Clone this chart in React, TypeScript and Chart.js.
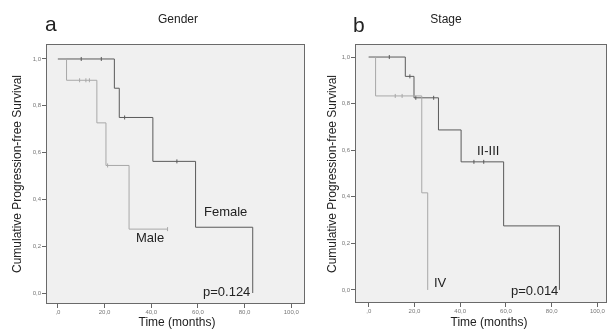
import React, { useEffect, useRef } from "react";
import { Chart, registerables } from "chart.js";
Chart.register(...registerables);

const FONT = "'Liberation Sans', Arial, Helvetica, sans-serif";

// Tick values and labels
const Y_TICKS = [0, 0.2, 0.4, 0.6, 0.8, 1.0];
const Y_TICK_LABELS = ["0,0", "0,2", "0,4", "0,6", "0,8", "1,0"];
const X_TICKS = [0, 20, 40, 60, 80, 100];
const X_TICK_LABELS = [",0", "20,0", "40,0", "60,0", "80,0", "100,0"];

// Panel a: Gender
const FEMALE_TIME = [0, 24.2, 26.3, 40.7, 59, 83.5];
const FEMALE_SURV = [1, 0.875, 0.75, 0.5625, 0.281, 0];
const FEMALE_CENS_TIME = [10, 18.6, 28.6, 51];
const FEMALE_CENS_SURV = [1, 1, 0.75, 0.5625];

const MALE_TIME = [0, 3.7, 16.7, 20.6, 30.5, 47];
const MALE_SURV = [1, 0.909, 0.727, 0.545, 0.273, 0.273];
const MALE_CENS_TIME = [9.3, 12, 13.5, 21.3, 47];
const MALE_CENS_SURV = [0.909, 0.909, 0.909, 0.545, 0.273];

// Panel b: Stage
const S23_TIME = [0, 16, 19.8, 30.5, 40.4, 59, 83.4];
const S23_SURV = [1, 0.917, 0.825, 0.687, 0.55, 0.275, 0];
const S23_CENS_TIME = [9, 18, 20.6, 28.4, 46, 50.3];
const S23_CENS_SURV = [1, 0.917, 0.825, 0.825, 0.55, 0.55];

const S4_TIME = [0, 3, 23.2, 25.8];
const S4_SURV = [1, 0.833, 0.417, 0];
const S4_CENS_TIME = [11.6, 14.6];
const S4_CENS_SURV = [0.833, 0.833];

const DARK = "#5a5a5a";
const LIGHT = "#a8a8a8";

type Txt = { text: string; x: number; y: number; size: number; align?: CanvasTextAlign; base?: CanvasTextBaseline; rot?: boolean };

function stepDs(t: number[], s: number[], color: string) {
  return {
    type: "line" as const,
    data: t.map((v, i) => ({ x: v, y: s[i] })),
    stepped: "before" as const,
    borderColor: color,
    borderWidth: 1,
    pointRadius: 0,
    fill: false,
  };
}

function censDs(t: number[], s: number[], color: string) {
  return {
    type: "scatter" as const,
    data: t.map((v, i) => ({ x: v, y: s[i] })),
    pointStyle: "line" as const,
    rotation: 90,
    pointRadius: 2,
    borderWidth: 1,
    borderColor: color,
    backgroundColor: color,
    showLine: false,
  };
}

function makePlugin(id: string, texts: Txt[]) {
  return {
    id,
    beforeDraw(chart: any) {
      const { ctx, chartArea: a } = chart;
      ctx.save();
      ctx.fillStyle = "#f0f0f0";
      ctx.fillRect(a.left, a.top, a.right - a.left, a.bottom - a.top);
      ctx.restore();
    },
    afterDraw(chart: any) {
      const { ctx, chartArea: a } = chart;
      ctx.save();
      ctx.strokeStyle = "#6a6a6a";
      ctx.lineWidth = 1;
      ctx.strokeRect(a.left + 0.5, a.top + 0.5, a.right - a.left - 1, a.bottom - a.top - 1);
      ctx.fillStyle = "#222";
      for (const t of texts) {
        ctx.save();
        ctx.font = `${t.size}px ${FONT}`;
        ctx.textAlign = t.align || "left";
        ctx.textBaseline = t.base || "alphabetic";
        if (t.rot) {
          ctx.translate(t.x, t.y);
          ctx.rotate(-Math.PI / 2);
          ctx.fillText(t.text, 0, 0);
        } else {
          ctx.fillText(t.text, t.x, t.y);
        }
        ctx.restore();
      }
      ctx.restore();
    },
  };
}

function makeConfig(opts: {
  datasets: any[];
  xmin: number; xmax: number; ymin: number; ymax: number;
  yWidth: number; xHeight: number; padRight: number; top: number;
  plugin: any;
}) {
  return {
    type: "line" as const,
    data: { datasets: opts.datasets },
    options: {
      animation: false,
      responsive: false,
      events: [],
      layout: { padding: { top: opts.top, left: 0, right: opts.padRight, bottom: 0 } },
      plugins: { legend: { display: false }, tooltip: { enabled: false }, title: { display: false } },
      scales: {
        x: {
          type: "linear",
          min: opts.xmin,
          max: opts.xmax,
          afterBuildTicks: (s: any) => { s.ticks = X_TICKS.map((v) => ({ value: v })); },
          afterFit: (s: any) => { s.height = opts.xHeight; },
          ticks: {
            font: { size: 6, family: FONT },
            color: "#777",
            padding: 1,
            maxRotation: 0,
            autoSkip: false,
            callback: (v: number) => X_TICK_LABELS[X_TICKS.indexOf(v)] ?? "",
          },
          grid: { display: true, drawOnChartArea: false, drawTicks: true, tickLength: 4, color: "#666" },
          border: { display: false },
        },
        y: {
          type: "linear",
          min: opts.ymin,
          max: opts.ymax,
          afterBuildTicks: (s: any) => { s.ticks = Y_TICKS.map((v) => ({ value: v })); },
          afterFit: (s: any) => { s.width = opts.yWidth; },
          ticks: {
            font: { size: 6, family: FONT },
            color: "#777",
            padding: 1,
            autoSkip: false,
            callback: (v: number) => {
              const i = Y_TICKS.findIndex((t) => Math.abs(t - v) < 1e-6);
              return i >= 0 ? Y_TICK_LABELS[i] : "";
            },
          },
          grid: { display: true, drawOnChartArea: false, drawTicks: true, tickLength: 4, color: "#666" },
          border: { display: false },
        },
      },
    },
    plugins: [opts.plugin],
  };
}

const YTITLE = "Cumulative Progression-free Survival";

export default function App() {
  const refA = useRef<HTMLCanvasElement>(null);
  const refB = useRef<HTMLCanvasElement>(null);

  useEffect(() => {
    const textsA: Txt[] = [
      { text: "a", x: 45, y: 31, size: 21 },
      { text: "Gender", x: 178, y: 20, size: 12, align: "center", base: "middle" },
      { text: YTITLE, x: 18, y: 174, size: 12, align: "center", base: "middle", rot: true },
      { text: "Time (months)", x: 177, y: 323, size: 12, align: "center", base: "middle" },
      { text: "Female", x: 204, y: 216, size: 13 },
      { text: "Male", x: 136, y: 242, size: 13 },
      { text: "p=0.124", x: 203, y: 296, size: 13 },
    ];
    const textsB: Txt[] = [
      { text: "b", x: 43, y: 32, size: 21 },
      { text: "Stage", x: 136, y: 20, size: 12, align: "center", base: "middle" },
      { text: YTITLE, x: 23, y: 174, size: 12, align: "center", base: "middle", rot: true },
      { text: "Time (months)", x: 179, y: 323, size: 12, align: "center", base: "middle" },
      { text: "II-III", x: 167, y: 155, size: 13 },
      { text: "IV", x: 124, y: 287, size: 13 },
      { text: "p=0.014", x: 201, y: 295, size: 13 },
    ];

    const chartA = new Chart(
      refA.current!,
      makeConfig({
        datasets: [
          stepDs(MALE_TIME, MALE_SURV, LIGHT),
          censDs(MALE_CENS_TIME, MALE_CENS_SURV, LIGHT),
          stepDs(FEMALE_TIME, FEMALE_SURV, DARK),
          censDs(FEMALE_CENS_TIME, FEMALE_CENS_SURV, DARK),
        ],
        xmin: -5.1, xmax: 105.9, ymin: -0.047, ymax: 1.064,
        yWidth: 46, xHeight: 28, padRight: 2, top: 44,
        plugin: makePlugin("panelA", textsA),
      }) as any
    );
    const chartB = new Chart(
      refB.current!,
      makeConfig({
        datasets: [
          stepDs(S4_TIME, S4_SURV, LIGHT),
          censDs(S4_CENS_TIME, S4_CENS_SURV, LIGHT),
          stepDs(S23_TIME, S23_SURV, DARK),
          censDs(S23_CENS_TIME, S23_CENS_SURV, DARK),
        ],
        xmin: -6.0, xmax: 104.2, ymin: -0.056, ymax: 1.056,
        yWidth: 45, xHeight: 29, padRight: 1, top: 44,
        plugin: makePlugin("panelB", textsB),
      }) as any
    );
    return () => {
      chartA.destroy();
      chartB.destroy();
    };
  }, []);

  return (
    <div style={{ position: "absolute", left: 0, top: 0, width: 612, height: 332, background: "#fff" }}>
      <canvas ref={refA} width={310} height={332} style={{ position: "absolute", left: 0, top: 0, width: 310, height: 332 }} />
      <canvas ref={refB} width={302} height={332} style={{ position: "absolute", left: 310, top: 0, width: 302, height: 332 }} />
    </div>
  );
}
